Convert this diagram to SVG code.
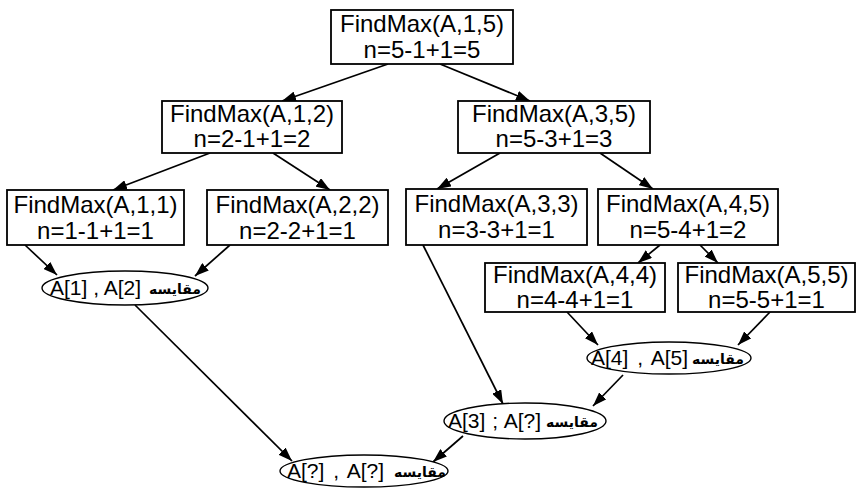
<svg xmlns="http://www.w3.org/2000/svg" width="858" height="490" viewBox="0 0 858 490">
  <defs>
    <marker id="arrow" viewBox="0 0 14 10" refX="14" refY="5" markerWidth="14" markerHeight="10" markerUnits="userSpaceOnUse" orient="auto">
      <path d="M0,0 L14,5 L0,10 z" fill="#000"/>
    </marker>
    <style>
      .box { fill: #fff; stroke: #000; stroke-width: 1.8; }
      .oval { fill: #fff; stroke: #000; stroke-width: 1.4; }
      .lbl { font-family: "Liberation Sans", Arial, sans-serif; font-size: 24px; fill: #000; text-anchor: middle; }
      .arr { font-family: "Liberation Sans", Arial, sans-serif; font-size: 21px; fill: #000; }
      .fa { font-family: "DejaVu Sans", "Noto Sans", sans-serif; font-size: 14px; font-weight: bold; fill: #000; text-anchor: end; }
      .edge { stroke: #000; stroke-width: 1.7; fill: none; marker-end: url(#arrow); }
    </style>
  </defs>
  <rect width="858" height="490" fill="#fff"/>

  <g id="connectors">
    <line class="edge" x1="388" y1="64" x2="282" y2="101"/>
    <line class="edge" x1="440" y1="64" x2="530" y2="101"/>
    <line class="edge" x1="210" y1="153" x2="113" y2="190"/>
    <line class="edge" x1="273" y1="153" x2="330" y2="190"/>
    <line class="edge" x1="500" y1="153" x2="437" y2="189"/>
    <line class="edge" x1="600" y1="153" x2="653" y2="189"/>
    <line class="edge" x1="660" y1="245" x2="638" y2="263"/>
    <line class="edge" x1="700" y1="245" x2="718" y2="263"/>
    <line class="edge" x1="25" y1="245" x2="57" y2="275"/>
    <line class="edge" x1="230" y1="245" x2="195" y2="276"/>
    <line class="edge" x1="567" y1="312" x2="598" y2="345"/>
    <line class="edge" x1="770" y1="312" x2="738" y2="345"/>
    <line class="edge" x1="423" y1="245" x2="503" y2="404"/>
    <line class="edge" x1="623" y1="375" x2="593" y2="406"/>
    <line class="edge" x1="135" y1="305" x2="292" y2="461"/>
    <line class="edge" x1="463" y1="436" x2="433" y2="462"/>
  </g>

  <g id="n-1-5">
    <rect class="box" x="331" y="10" width="182" height="54"/>
    <text class="lbl" x="422" y="32">FindMax(A,1,5)</text>
    <text class="lbl" x="422" y="58">n=5-1+1=5</text>
  </g>
  <g id="n-1-2">
    <rect class="box" x="162" y="101" width="180" height="52"/>
    <text class="lbl" x="252" y="122">FindMax(A,1,2)</text>
    <text class="lbl" x="252" y="147">n=2-1+1=2</text>
  </g>
  <g id="n-3-5">
    <rect class="box" x="458" y="101" width="192" height="52"/>
    <text class="lbl" x="554" y="122">FindMax(A,3,5)</text>
    <text class="lbl" x="554" y="147">n=5-3+1=3</text>
  </g>
  <g id="n-1-1">
    <rect class="box" x="7" y="190" width="177" height="55"/>
    <text class="lbl" x="95.5" y="213">FindMax(A,1,1)</text>
    <text class="lbl" x="95.5" y="239">n=1-1+1=1</text>
  </g>
  <g id="n-2-2">
    <rect class="box" x="207" y="190" width="181" height="55"/>
    <text class="lbl" x="297.5" y="213">FindMax(A,2,2)</text>
    <text class="lbl" x="297.5" y="239">n=2-2+1=1</text>
  </g>
  <g id="n-3-3">
    <rect class="box" x="406" y="189" width="181" height="56"/>
    <text class="lbl" x="496.5" y="212">FindMax(A,3,3)</text>
    <text class="lbl" x="496.5" y="238">n=3-3+1=1</text>
  </g>
  <g id="n-4-5">
    <rect class="box" x="598" y="189" width="180" height="56"/>
    <text class="lbl" x="688" y="212">FindMax(A,4,5)</text>
    <text class="lbl" x="688" y="238">n=5-4+1=2</text>
  </g>
  <g id="n-4-4">
    <rect class="box" x="485" y="263" width="180" height="49"/>
    <text class="lbl" x="575" y="283">FindMax(A,4,4)</text>
    <text class="lbl" x="575" y="308">n=4-4+1=1</text>
  </g>
  <g id="n-5-5">
    <rect class="box" x="678" y="263" width="177" height="49"/>
    <text class="lbl" x="766.5" y="283">FindMax(A,5,5)</text>
    <text class="lbl" x="766.5" y="308">n=5-5+1=1</text>
  </g>

  <g id="cmp-1-2">
    <ellipse class="oval" cx="125" cy="288" rx="83" ry="17"/>
    <text class="arr" x="50" y="295">A[1] , A[2]</text>
    <text class="fa" x="201" y="294">مقایسه</text>
  </g>
  <g id="cmp-4-5">
    <ellipse class="oval" cx="669" cy="358" rx="82" ry="16"/>
    <text class="arr" x="591" y="365" word-spacing="3">A[4] , A[5]</text>
    <text class="fa" x="744" y="364">مقایسه</text>
  </g>
  <g id="cmp-3">
    <ellipse class="oval" cx="525" cy="421" rx="81" ry="18"/>
    <text class="arr" x="448" y="428" word-spacing="1">A[3] ; A[?]</text>
    <text class="fa" x="598" y="427">مقایسه</text>
  </g>
  <g id="cmp-final">
    <ellipse class="oval" cx="364" cy="471" rx="84" ry="16"/>
    <text class="arr" x="287" y="478" font-size="23" word-spacing="3">A[?] , A[?]</text>
    <text class="fa" x="446" y="477">مقایسه</text>
  </g>
</svg>
